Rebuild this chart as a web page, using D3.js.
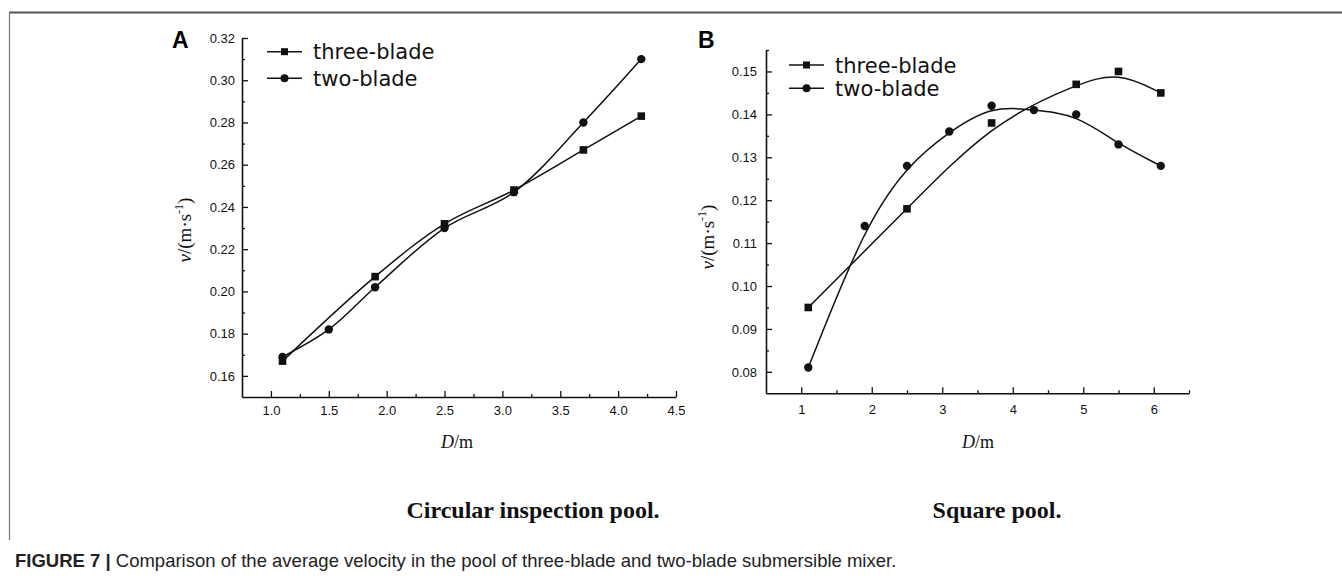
<!DOCTYPE html>
<html><head><meta charset="utf-8">
<script src="https://cdn.jsdelivr.net/npm/d3@7"></script>
<style>body{margin:0;background:#fff}svg{display:block}</style>
</head><body>
<svg id="c" width="1342" height="584"></svg>
<script>
// ---- data ----
const seriesNames = ["three-blade", "two-blade"];
// Panel A: Circular inspection pool
const aThreeX = [1.1, 1.9, 2.5, 3.1, 3.7, 4.2];
const aThreeV = [0.167, 0.207, 0.232, 0.248, 0.267, 0.283];
const aTwoX = [1.1, 1.5, 1.9, 2.5, 3.1, 3.7, 4.2];
const aTwoV = [0.169, 0.182, 0.202, 0.230, 0.247, 0.280, 0.310];
const aXTicks = [1.0, 1.5, 2.0, 2.5, 3.0, 3.5, 4.0, 4.5];
const aYTicks = [0.16, 0.18, 0.20, 0.22, 0.24, 0.26, 0.28, 0.30, 0.32];
// Panel B: Square pool
const bThreeX = [1.1, 2.5, 3.7, 4.9, 5.5, 6.1];
const bThreeV = [0.095, 0.118, 0.138, 0.147, 0.150, 0.145];
const bTwoX = [1.1, 1.9, 2.5, 3.1, 3.7, 4.3, 4.9, 5.5, 6.1];
const bTwoV = [0.081, 0.114, 0.128, 0.136, 0.142, 0.141, 0.140, 0.133, 0.128];
const bXTicks = [1, 2, 3, 4, 5, 6];
const bYTicks = [0.08, 0.09, 0.10, 0.11, 0.12, 0.13, 0.14, 0.15];

const svg = d3.select("#c");

// frame
svg.append("line").attr("x1", 9).attr("x2", 1342).attr("y1", 12.5).attr("y2", 12.5)
  .attr("stroke", "#555").attr("stroke-width", 2);
svg.append("line").attr("x1", 9.5).attr("x2", 9.5).attr("y1", 12).attr("y2", 540)
  .attr("stroke", "#777").attr("stroke-width", 1.2);

function panel(o) {
  const g = svg.append("g");
  const x = d3.scaleLinear().domain(o.xDom).range(o.xRange);
  const y = d3.scaleLinear().domain(o.yDom).range(o.yRange);
  const y0 = o.yRange[0], x0 = o.xRange[0];

  g.append("g").attr("transform", `translate(0,${y0})`)
    .call(d3.axisBottom(x).tickValues(o.xTicks).tickFormat(d3.format(o.xFmt))
      .tickSize(-6).tickSizeOuter(0).tickPadding(o.xPad));
  g.append("g").attr("transform", `translate(0,${y0})`)
    .call(d3.axisBottom(x).tickValues(o.xMinor).tickFormat("").tickSize(-3).tickSizeOuter(0))
    .select(".domain").remove();
  g.append("g").attr("transform", `translate(${x0},0)`)
    .call(d3.axisLeft(y).tickValues(o.yTicks).tickFormat(d3.format(".2f"))
      .tickSize(-6).tickSizeOuter(0).tickPadding(o.yPad));
  g.append("g").attr("transform", `translate(${x0},0)`)
    .call(d3.axisLeft(y).tickValues(o.yMinor).tickFormat("").tickSize(-3).tickSizeOuter(0))
    .select(".domain").remove();

  g.selectAll(".domain").attr("stroke", "#111").attr("stroke-width", 1.6);
  g.selectAll(".tick line").attr("stroke", "#111").attr("stroke-width", 1.3);
  g.selectAll(".tick text").attr("font-family", "Liberation Sans, Arial, sans-serif")
    .attr("font-size", 13).attr("fill", "#111");

  const three = o.threeX.map((v, i) => [v, o.threeV[i]]);
  const two = o.twoX.map((v, i) => [v, o.twoV[i]]);
  const line = d3.line().x(d => x(d[0])).y(d => y(d[1])).curve(o.curve);
  [three, two].forEach(s => g.append("path").datum(s).attr("d", line)
    .attr("fill", "none").attr("stroke", "#111").attr("stroke-width", 1.5));
  g.selectAll(".sq").data(three).join("rect").attr("class", "sq")
    .attr("x", d => x(d[0]) - 3.8).attr("y", d => y(d[1]) - 3.8)
    .attr("width", 7.6).attr("height", 7.6).attr("fill", "#111");
  g.selectAll(".ci").data(two).join("circle").attr("class", "ci")
    .attr("cx", d => x(d[0])).attr("cy", d => y(d[1])).attr("r", 4.2).attr("fill", "#111");

  // legend
  seriesNames.forEach((name, i) => {
    const ly = o.legY[i];
    g.append("line").attr("x1", o.legX).attr("x2", o.legX + 35).attr("y1", ly).attr("y2", ly)
      .attr("stroke", "#111").attr("stroke-width", 1.5);
    if (i === 0) g.append("rect").attr("x", o.legX + 17.5 - 3.5).attr("y", ly - 3.5)
      .attr("width", 7).attr("height", 7).attr("fill", "#111");
    else g.append("circle").attr("cx", o.legX + 17.5).attr("cy", ly).attr("r", 4).attr("fill", "#111");
    g.append("text").attr("x", o.legX + 46).attr("y", ly).attr("dy", "0.36em")
      .attr("font-family", "DejaVu Sans, sans-serif").attr("font-size", 21)
      .attr("fill", "#111").text(name);
  });

  g.append("text").attr("x", o.letterX).attr("y", 48).attr("font-family", "Liberation Sans, Arial, sans-serif")
    .attr("font-weight", "bold").attr("font-size", 23).attr("fill", "#000").text(o.letter);

  const yl = g.append("text").attr("transform", `translate(${o.ylX},${o.ylY}) rotate(-90)`)
    .attr("text-anchor", "middle").attr("font-family", "Liberation Serif, Times New Roman, serif")
    .attr("font-size", 19).attr("fill", "#111");
  yl.append("tspan").attr("font-style", "italic").text("v");
  yl.append("tspan").text("/(m·s");
  yl.append("tspan").attr("font-size", 12).attr("dy", -8).text("-1");
  yl.append("tspan").attr("dy", 8).text(")");

  const xl = g.append("text").attr("x", o.xlX).attr("y", 448).attr("text-anchor", "middle")
    .attr("font-family", "Liberation Serif, Times New Roman, serif").attr("font-size", 18).attr("fill", "#111");
  xl.append("tspan").attr("font-style", "italic").text("D");
  xl.append("tspan").text("/m");

  g.append("text").attr("x", o.subX).attr("y", 518).attr("text-anchor", "middle")
    .attr("font-family", "Liberation Serif, Times New Roman, serif").attr("font-weight", "bold")
    .attr("font-size", 24).attr("fill", "#111").text(o.sub);
}

panel({
  xDom: [0.75, 4.5], xRange: [242, 676], yDom: [0.15, 0.32], yRange: [397, 38],
  xTicks: aXTicks, xMinor: [1.25, 1.75, 2.25, 2.75, 3.25, 3.75, 4.25], xFmt: ".1f", xPad: 8.5,
  yTicks: aYTicks, yMinor: [0.17, 0.19, 0.21, 0.23, 0.25, 0.27, 0.29, 0.31], yPad: 7,
  threeX: aThreeX, threeV: aThreeV, twoX: aTwoX, twoV: aTwoV, curve: d3.curveCatmullRom.alpha(0.5),
  legX: 267, legY: [51.7, 78.3], letter: "A", letterX: 172,
  ylX: 191, ylY: 230, xlX: 457, subX: 533, sub: "Circular inspection pool."
});
panel({
  xDom: [0.5, 6.5], xRange: [766, 1189], yDom: [0.075, 0.155], yRange: [393.3, 50],
  xTicks: bXTicks, xMinor: [1.5, 2.5, 3.5, 4.5, 5.5, 6.5], xFmt: "d", xPad: 11.5,
  yTicks: bYTicks, yMinor: [0.085, 0.095, 0.105, 0.115, 0.125, 0.135, 0.145, 0.155], yPad: 9,
  threeX: bThreeX, threeV: bThreeV, twoX: bTwoX, twoV: bTwoV, curve: d3.curveBasis,
  legX: 789, legY: [65, 88.3], letter: "B", letterX: 698,
  ylX: 714, ylY: 237, xlX: 978, subX: 997, sub: "Square pool."
});

const cap = svg.append("text").attr("x", 15).attr("y", 567)
  .attr("font-family", "Liberation Sans, Arial, sans-serif").attr("font-size", 18.5).attr("fill", "#222");
cap.append("tspan").attr("font-weight", "bold").text("FIGURE 7 | ");
cap.append("tspan").text("Comparison of the average velocity in the pool of three-blade and two-blade submersible mixer.");
</script>
</body></html>
